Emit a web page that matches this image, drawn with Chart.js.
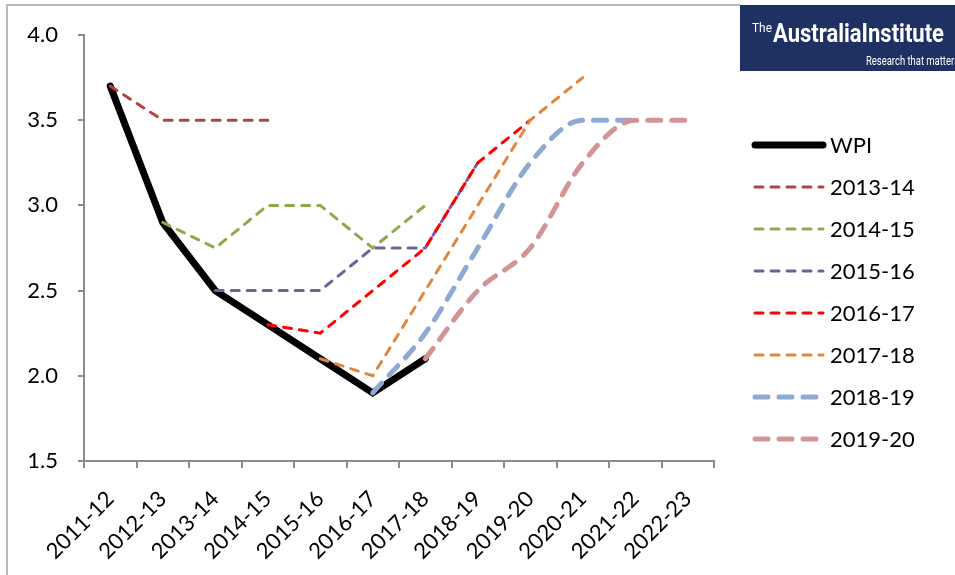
<!DOCTYPE html>
<html>
<head>
<meta charset="utf-8">
<script src="https://cdn.jsdelivr.net/npm/chart.js@4/dist/chart.umd.min.js"></script>
<style>
  html, body { margin: 0; padding: 0; background: #ffffff; }
  #wrap { position: relative; width: 955px; height: 575px; }
  canvas { display: block; }
</style>
</head>
<body>
<div id="wrap"><canvas id="chart" width="955" height="575"></canvas></div>
<script>
// Financial years on the category axis
const categories = ['2011-12', '2012-13', '2013-14', '2014-15', '2015-16', '2016-17',
                    '2017-18', '2018-19', '2019-20', '2020-21', '2021-22', '2022-23'];

// Wage Price Index outcomes
const wpi = [3.7, 2.9, 2.5, 2.3, 2.1, 1.9, 2.1, null, null, null, null, null];

// Budget forecasts, one series per budget year
const budget201314 = [3.7, 3.5, 3.5, 3.5, null, null, null, null, null, null, null, null];
const budget201415 = [null, 2.9, 2.75, 3.0, 3.0, 2.75, 3.0, null, null, null, null, null];
const budget201516 = [null, null, 2.5, 2.5, 2.5, 2.75, 2.75, 3.25, null, null, null, null];
const budget201617 = [null, null, null, 2.3, 2.25, 2.5, 2.75, 3.25, 3.5, null, null, null];
const budget201718 = [null, null, null, null, 2.1, 2.0, 2.5, 3.0, 3.5, 3.75, null, null];
const budget201819 = [null, null, null, null, null, 1.9, 2.25, 2.75, 3.25, 3.5, 3.5, null];
const budget201920 = [null, null, null, null, null, null, 2.1, 2.5, 2.75, 3.25, 3.5, 3.5];

const seriesNames = ['WPI', '2013-14', '2014-15', '2015-16', '2016-17', '2017-18', '2018-19', '2019-20'];

// Value axis range and step
const yMin = 1.5;
const yMax = 4.0;
const yStep = 0.5;

const FONT = 'Lato, "Open Sans", sans-serif';
const AXIS_GREY = '#8c8c8c';

const thinDash = [8, 8];
const wideDash = [13, 11];

function forecast(label, data, color, wide) {
  return {
    label: label,
    data: data,
    borderColor: color,
    backgroundColor: color,
    borderWidth: wide ? 5 : 3,
    borderDash: wide ? wideDash : thinDash,
    borderCapStyle: 'round',
    pointRadius: 0,
    pointHoverRadius: 0,
    spanGaps: false,
    cubicInterpolationMode: wide ? 'monotone' : 'default',
    tension: 0
  };
}

const datasets = [
  {
    label: seriesNames[0],
    data: wpi,
    borderColor: '#000000',
    backgroundColor: '#000000',
    borderWidth: 7,
    borderCapStyle: 'round',
    borderJoinStyle: 'miter',
    pointRadius: 0,
    pointHoverRadius: 0,
    tension: 0
  },
  forecast(seriesNames[1], budget201314, '#b3433f', false),
  forecast(seriesNames[2], budget201415, '#8eab4b', false),
  forecast(seriesNames[3], budget201516, '#725f9c', false),
  forecast(seriesNames[4], budget201617, '#ff0000', false),
  forecast(seriesNames[5], budget201718, '#e0873f', false),
  forecast(seriesNames[6], budget201819, '#8eaad3', true),
  forecast(seriesNames[7], budget201920, '#d39495', true)
];
// later series sit on top of earlier ones
datasets.forEach((d, i) => { d.order = datasets.length - i; });

// Outer frame, publisher badge and the series key
const decorations = {
  id: 'decorations',
  afterDraw(chart) {
    const ctx = chart.ctx;
    ctx.save();

    // frame
    ctx.strokeStyle = '#b9b9b9';
    ctx.lineWidth = 2;
    ctx.beginPath();
    ctx.moveTo(7, 575);
    ctx.lineTo(7, 5);
    ctx.lineTo(740, 5);
    ctx.stroke();

    // badge
    ctx.fillStyle = '#1f3163';
    ctx.fillRect(740, 5, 215, 66);
    ctx.fillStyle = '#ffffff';
    ctx.textBaseline = 'alphabetic';
    ctx.textAlign = 'left';
    ctx.font = '12px Roboto, sans-serif';
    const tw = ctx.measureText('The').width;
    ctx.save();
    ctx.translate(752, 32);
    ctx.scale(20 / tw, 1);
    ctx.fillText('The', 0, 0);
    ctx.restore();
    ctx.font = 'bold 25px Roboto, sans-serif';
    const main = 'AustraliaInstitute';
    const mw = ctx.measureText(main).width;
    ctx.save();
    ctx.translate(773, 42);
    ctx.scale(171 / mw, 1);
    ctx.fillText(main, 0, 0);
    ctx.restore();
    ctx.font = '13px Roboto, sans-serif';
    const sub = 'Research that matters';
    const sw = ctx.measureText(sub).width;
    ctx.save();
    ctx.beginPath();
    ctx.rect(740, 5, 215, 66);
    ctx.clip();
    ctx.translate(866, 65);
    ctx.scale(93 / sw, 1);
    ctx.fillText(sub, 0, 0);
    ctx.restore();

    // key
    ctx.font = '22px ' + FONT;
    ctx.textBaseline = 'middle';
    chart.data.datasets.forEach((ds, i) => {
      const y = 145 + i * 42;
      ctx.save();
      ctx.strokeStyle = ds.borderColor;
      ctx.lineWidth = ds.borderWidth;
      ctx.lineCap = ds.borderCapStyle || 'butt';
      ctx.setLineDash(ds.borderDash || []);
      ctx.beginPath();
      ctx.moveTo(755, y);
      ctx.lineTo(823, y);
      ctx.stroke();
      ctx.restore();
      ctx.fillStyle = '#000000';
      ctx.fillText(ds.label, 830, y + 1);
    });

    ctx.restore();
  }
};

new Chart(document.getElementById('chart'), {
  type: 'line',
  data: { labels: categories, datasets: datasets },
  options: {
    responsive: false,
    animation: false,
    devicePixelRatio: 1,
    layout: { padding: { left: 0, top: 35, right: 241, bottom: 0 } },
    plugins: {
      legend: { display: false },
      tooltip: { enabled: false }
    },
    scales: {
      x: {
        type: 'category',
        offset: true,
        grid: {
          offset: true,
          drawOnChartArea: false,
          drawTicks: true,
          tickLength: 7,
          color: AXIS_GREY,
          lineWidth: 2
        },
        border: { display: true, color: AXIS_GREY, width: 2 },
        ticks: {
          autoSkip: false,
          minRotation: 45,
          maxRotation: 45,
          padding: 18,
          color: '#000000',
          font: { family: FONT, size: 22 }
        },
        afterFit(scale) { scale.height = 114; }
      },
      y: {
        min: yMin,
        max: yMax,
        grid: {
          drawOnChartArea: false,
          drawTicks: true,
          tickLength: 6,
          color: AXIS_GREY,
          lineWidth: 2
        },
        border: { display: true, color: AXIS_GREY, width: 2 },
        ticks: {
          stepSize: yStep,
          padding: 20,
          color: '#000000',
          font: { family: FONT, size: 22 },
          callback: (v) => Number(v).toFixed(1)
        },
        afterFit(scale) { scale.width = 84; }
      }
    }
  },
  plugins: [decorations]
});
</script>
</body>
</html>
